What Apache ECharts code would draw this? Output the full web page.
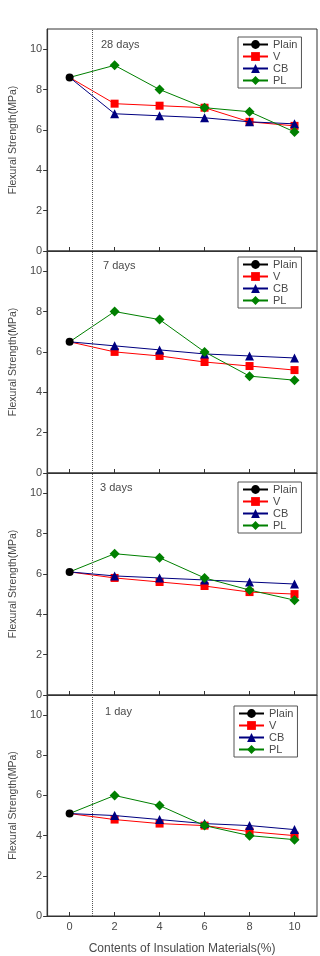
<!DOCTYPE html>
<html>
<head>
<meta charset="utf-8">
<script src="https://cdn.jsdelivr.net/npm/echarts@6.0.0/dist/echarts.min.js"></script>
<style>
html, body { margin: 0; padding: 0; background: #fff; }
#chart { width: 320px; height: 956px; }
</style>
</head>
<body>
<div id="chart"></div>
<script>
// contents of insulation materials (%)
var contents = [0, 2, 4, 6, 8, 10];
var xTickValues = [0, 2, 4, 6, 8, 10];
var yTickValues = [0, 2, 4, 6, 8, 10];
var dividerX = 1;

var ages = ['28 days', '7 days', '3 days', '1 day'];
var seriesNames = ['Plain', 'V', 'CB', 'PL'];

// flexural strength (MPa), first value = plain mix at 0 %
var plainValues = [8.6, 6.5, 6.1, 5.1];

var v28 = [8.6, 7.3, 7.2, 7.1, 6.4, 6.2];
var cb28 = [8.6, 6.8, 6.7, 6.6, 6.4, 6.3];
var pl28 = [8.6, 9.2, 8.0, 7.1, 6.9, 5.9];

var v7 = [6.5, 6.0, 5.8, 5.5, 5.3, 5.1];
var cb7 = [6.5, 6.3, 6.1, 5.9, 5.8, 5.7];
var pl7 = [6.5, 8.0, 7.6, 6.0, 4.8, 4.6];

var v3 = [6.1, 5.8, 5.6, 5.4, 5.1, 5.0];
var cb3 = [6.1, 5.9, 5.8, 5.7, 5.6, 5.5];
var pl3 = [6.1, 7.0, 6.8, 5.8, 5.2, 4.7];

var v1 = [5.1, 4.8, 4.6, 4.5, 4.2, 4.0];
var cb1 = [5.1, 5.0, 4.8, 4.6, 4.5, 4.3];
var pl1 = [5.1, 6.0, 5.5, 4.5, 4.0, 3.8];

var vAll = [v28, v7, v3, v1];
var cbAll = [cb28, cb7, cb3, cb1];
var plAll = [pl28, pl7, pl3, pl1];

var font = 'Liberation Sans';
var textColor = '#4a4a4a';
var lineColor = '#333';

var panelTops = [29, 251, 473, 695];
var panelHeight = 222;
var titlePos = [[101, 39], [103, 260], [100, 482], [105, 706]];
var legendPos = [[238, 37], [238, 257], [238, 482], [234, 706]];

function pairs(values) {
    var out = [];
    for (var i = 0; i < values.length; i++) {
        if (i === 0) {
            // the 0 % point is the plain mix, its marker is drawn by 'Plain'
            out.push({ value: [contents[i], values[i]], symbolSize: 0 });
        } else {
            out.push([contents[i], values[i]]);
        }
    }
    return out;
}

var grids = [], xAxes = [], yAxes = [], series = [], titles = [], legends = [];

for (var p = 0; p < 4; p++) {
    var last = p === 3;
    grids.push({
        left: 44,
        right: 3,
        top: panelTops[p],
        height: panelHeight,
        show: true,
        borderColor: lineColor,
        borderWidth: 1
    });
    xAxes.push({
        type: 'value',
        gridIndex: p,
        min: -1,
        max: 11,
        splitLine: { show: false },
        axisLine: { show: true, onZero: false, lineStyle: { color: lineColor, width: 1 } },
        axisTick: { show: true, inside: true, length: 4, customValues: xTickValues, lineStyle: { color: lineColor } },
        axisLabel: {
            show: last,
            customValues: xTickValues,
            margin: 5,
            fontSize: 11,
            fontFamily: font,
            color: textColor
        },
        name: last ? 'Contents of Insulation Materials(%)' : '',
        nameLocation: 'middle',
        nameGap: 27,
        nameTextStyle: { fontSize: 12, fontFamily: font, color: textColor }
    });
    yAxes.push({
        type: 'value',
        gridIndex: p,
        min: 0,
        max: 11,
        splitLine: { show: false },
        axisLine: { show: true, onZero: false, lineStyle: { color: lineColor, width: 1.2 } },
        axisTick: { show: true, inside: false, length: 4, customValues: yTickValues, lineStyle: { color: lineColor } },
        axisLabel: {
            customValues: yTickValues,
            margin: 5,
            fontSize: 11,
            fontFamily: font,
            color: textColor
        },
        name: 'Flexural Strength(MPa)',
        nameLocation: 'middle',
        nameGap: 28,
        nameTextStyle: { fontSize: 10.5, fontFamily: font, color: textColor }
    });
    titles.push({
        text: ages[p],
        left: titlePos[p][0],
        top: titlePos[p][1],
        padding: 0,
        textStyle: { fontSize: 11, fontWeight: 'normal', fontFamily: font, color: textColor }
    });
    legends.push({
        data: seriesNames,
        orient: 'vertical',
        left: legendPos[p][0],
        top: legendPos[p][1],
        padding: [2, 4, 2, 4],
        borderColor: '#555',
        borderWidth: 1,
        borderRadius: 0,
        itemWidth: 25,
        itemHeight: 11,
        itemGap: 1,
        selectedMode: false,
        textStyle: { fontSize: 11, fontFamily: font, color: textColor }
    });

    series.push({
        name: 'V',
        type: 'line',
        xAxisIndex: p,
        yAxisIndex: p,
        symbol: 'rect',
        symbolSize: 8,
        color: '#ff0000',
        lineStyle: { width: 1 },
        data: pairs(vAll[p]),
        z: 2
    });
    series.push({
        name: 'CB',
        type: 'line',
        xAxisIndex: p,
        yAxisIndex: p,
        symbol: 'triangle',
        symbolSize: 9,
        color: '#000080',
        lineStyle: { width: 1 },
        data: pairs(cbAll[p]),
        z: 3
    });
    series.push({
        name: 'PL',
        type: 'line',
        xAxisIndex: p,
        yAxisIndex: p,
        symbol: 'diamond',
        symbolSize: 10,
        color: '#008000',
        lineStyle: { width: 1 },
        data: pairs(plAll[p]),
        z: 4
    });
    series.push({
        name: 'Plain',
        type: 'line',
        xAxisIndex: p,
        yAxisIndex: p,
        symbol: 'circle',
        symbolSize: 8,
        color: '#000000',
        lineStyle: { width: 1 },
        data: [[contents[0], plainValues[p]]],
        z: 5,
        markLine: {
            silent: true,
            symbol: 'none',
            label: { show: false },
            lineStyle: { type: 'dotted', color: '#555', width: 1 },
            data: [{ xAxis: dividerX }]
        }
    });
}

var dom = document.getElementById('chart');
var myChart = echarts.init(dom, null, { renderer: 'canvas' });
var option = {
    animation: false,
    backgroundColor: '#fff',
    title: titles,
    legend: legends,
    grid: grids,
    xAxis: xAxes,
    yAxis: yAxes,
    series: series
};
myChart.setOption(option);
</script>
</body>
</html>
